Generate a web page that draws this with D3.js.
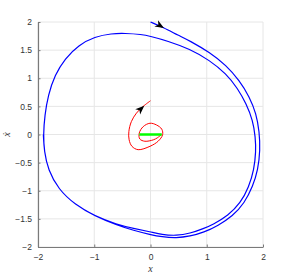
<!DOCTYPE html>
<html>
<head>
<meta charset="utf-8">
<script src="https://cdn.jsdelivr.net/npm/d3@7"></script>
<style>
  body { margin: 0; background: #fff; }
  text { font-family: "Liberation Sans", Arial, sans-serif; }
</style>
</head>
<body>
<div id="chart"></div>
<script>
// Step 1: data
//= ================================
var xTicks = [-2, -1, 0, 1, 2];
var yTicks = [-2, -1.5, -1, -0.5, 0, 0.5, 1, 1.5, 2];

// blue trajectory (starts at (0,2), about two turns, settles on the cycle)
var blueX = [0, 0.22, 0.5, 0.7, 1.05, 1.345, 1.58, 1.76, 1.88, 1.935, 1.95, 1.91, 1.82, 1.67, 1.46, 1.2, 0.95, 0.7, 0.46, 0.2, 0, -0.3, -0.6, -0.99, -1.34, -1.64, -1.82, -1.89, -1.905,
             -1.88, -1.82, -1.7, -1.52, -1.28, -0.99, -0.69, -0.46, -0.16, 0, 0.3, 0.7, 1.05, 1.345, 1.55, 1.7, 1.82, 1.865, 1.875, 1.84, 1.75, 1.6, 1.38, 1.11, 0.95, 0.7, 0.46, 0.2, 0, -0.3, -0.6, -0.99, -1.34, -1.64, -1.82, -1.89, -1.905];
var blueY = [2, 1.905, 1.76, 1.665, 1.46, 1.23, 0.96, 0.67, 0.37, 0.05, -0.28, -0.63, -0.92, -1.22, -1.45, -1.62, -1.74, -1.81, -1.84, -1.82, -1.78, -1.705, -1.61, -1.45, -1.25, -0.97, -0.63, -0.3, 0,
             0.34, 0.7, 1.06, 1.35, 1.59, 1.74, 1.795, 1.8, 1.78, 1.745, 1.665, 1.52, 1.32, 1.08, 0.82, 0.55, 0.25, -0.05, -0.3, -0.63, -0.93, -1.22, -1.44, -1.6, -1.67, -1.76, -1.8, -1.78, -1.73, -1.67, -1.6, -1.45, -1.25, -0.97, -0.63, -0.3, 0];

// red trajectory (spirals out of the stick band to (0,0.6))
var redX = [0.195, 0.12, 0.05, -0.1, -0.19, -0.2, -0.13, -0.01, 0.106, 0.2, 0.215, 0.135, -0.01, -0.22, -0.33, -0.38, -0.385, -0.34, -0.25, -0.13, 0];
var redY = [0, -0.06, -0.095, -0.12, -0.08, 0.025, 0.14, 0.2, 0.17, 0.095, -0.005, -0.12, -0.21, -0.27, -0.21, -0.094, 0.05, 0.23, 0.38, 0.5, 0.6];

// green stick segment
var greenX = [-0.2, 0.2];
var greenY = [0, 0];

// arrow heads: tip position and direction (data units)
var arrowX = [0.24, -0.11];
var arrowY = [1.895, 0.51];
var arrowDX = [0.35, 0.12];
var arrowDY = [-0.2, 0.11];

// Step 2: set up the chart
//= ================================
var svgWidth = 291;
var svgHeight = 279;
var margin = { top: 22, right: 28, bottom: 32, left: 38 };
var width = svgWidth - margin.left - margin.right;
var height = svgHeight - margin.top - margin.bottom;

var svg = d3.select("#chart")
    .append("svg")
    .attr("width", svgWidth)
    .attr("height", svgHeight);

var chartGroup = svg.append("g")
    .attr("transform", `translate(${margin.left}, ${margin.top})`);

var xScale = d3.scaleLinear().domain([-2, 2]).range([0, width]);
var yScale = d3.scaleLinear().domain([-2, 2]).range([height, 0]);

// grid lines
chartGroup.append("g")
    .selectAll("line.gx")
    .data(xTicks)
    .enter()
    .append("line")
    .attr("x1", d => xScale(d)).attr("x2", d => xScale(d))
    .attr("y1", 0).attr("y2", height)
    .style("stroke", "#e6e6e6").style("stroke-width", 1);

chartGroup.append("g")
    .selectAll("line.gy")
    .data(yTicks)
    .enter()
    .append("line")
    .attr("y1", d => yScale(d)).attr("y2", d => yScale(d))
    .attr("x1", 0).attr("x2", width)
    .style("stroke", "#e6e6e6").style("stroke-width", 1);

// axes (ticks inside, matlab style)
var bottomAxis = d3.axisBottom(xScale).tickValues(xTicks).tickSizeInner(-2.5).tickSizeOuter(0).tickPadding(7)
    .tickFormat(d3.format("~g"));
var leftAxis = d3.axisLeft(yScale).tickValues(yTicks).tickSizeInner(-2.5).tickSizeOuter(0).tickPadding(6)
    .tickFormat(d3.format("~g"));

var gx = chartGroup.append("g")
    .attr("transform", "translate(0," + height + ")")
    .call(bottomAxis);
var gy = chartGroup.append("g")
    .call(leftAxis);

[gx, gy].forEach(function(g) {
    g.select(".domain").style("stroke", "#7a7a7a").style("stroke-width", 1.2);
    g.selectAll(".tick line").style("stroke", "#7a7a7a");
    g.selectAll(".tick text")
        .style("font-family", "'Liberation Sans', Arial, sans-serif")
        .style("font-size", "8.5px")
        .style("fill", "#333");
});

// Step 3: the curves
//= ================================
function pts(xs, ys) {
    return xs.map(function(x, i) { return [x, ys[i]]; });
}

// blue is smoothed a bit, the points were read by eye
var blueLine = d3.line()
    .x(d => xScale(d[0]))
    .y(d => yScale(d[1]))
    .curve(d3.curveBasis);

var line = d3.line()
    .x(d => xScale(d[0]))
    .y(d => yScale(d[1]))
    .curve(d3.curveCatmullRom.alpha(0.5));

chartGroup.append("path")
    .datum(pts(blueX, blueY))
    .attr("d", blueLine)
    .style("fill", "none")
    .style("stroke", "#0000ff")
    .style("stroke-width", 1.2);

chartGroup.append("path")
    .datum(pts(redX, redY))
    .attr("d", line)
    .style("fill", "none")
    .style("stroke", "#ff0000")
    .style("stroke-width", 1);

chartGroup.append("path")
    .datum(pts(greenX, greenY))
    .attr("d", d3.line().x(d => xScale(d[0])).y(d => yScale(d[1])))
    .style("fill", "none")
    .style("stroke", "#00ff00")
    .style("stroke-width", 2.5);

// arrow heads
chartGroup.selectAll(".arrowHead")
    .data(arrowX)
    .enter()
    .append("path")
    .attr("class", "arrowHead")
    .attr("d", "M0,0 L-9,-3.6 L-6.5,0 L-9,3.6 Z")
    .attr("transform", function(d, i) {
        var ang = Math.atan2(-arrowDY[i], arrowDX[i]) * 180 / Math.PI; // screen y goes down
        return "translate(" + xScale(d) + "," + yScale(arrowY[i]) + ") rotate(" + ang + ")";
    })
    .style("fill", "#000");

// axis labels
chartGroup.append("text")
    .attr("x", width / 2)
    .attr("y", height + 25)
    .attr("text-anchor", "middle")
    .style("font-family", "'Liberation Serif', 'DejaVu Serif', serif")
    .style("font-style", "italic")
    .style("font-size", "10px")
    .style("fill", "#333")
    .text("x");

chartGroup.append("text")
    .attr("transform", "translate(" + (-28) + "," + (height / 2) + ") rotate(-90)")
    .attr("text-anchor", "middle")
    .style("font-family", "'Liberation Serif', 'DejaVu Serif', serif")
    .style("font-style", "italic")
    .style("font-size", "10px")
    .style("fill", "#333")
    .text("ẋ");
</script>
</body>
</html>
